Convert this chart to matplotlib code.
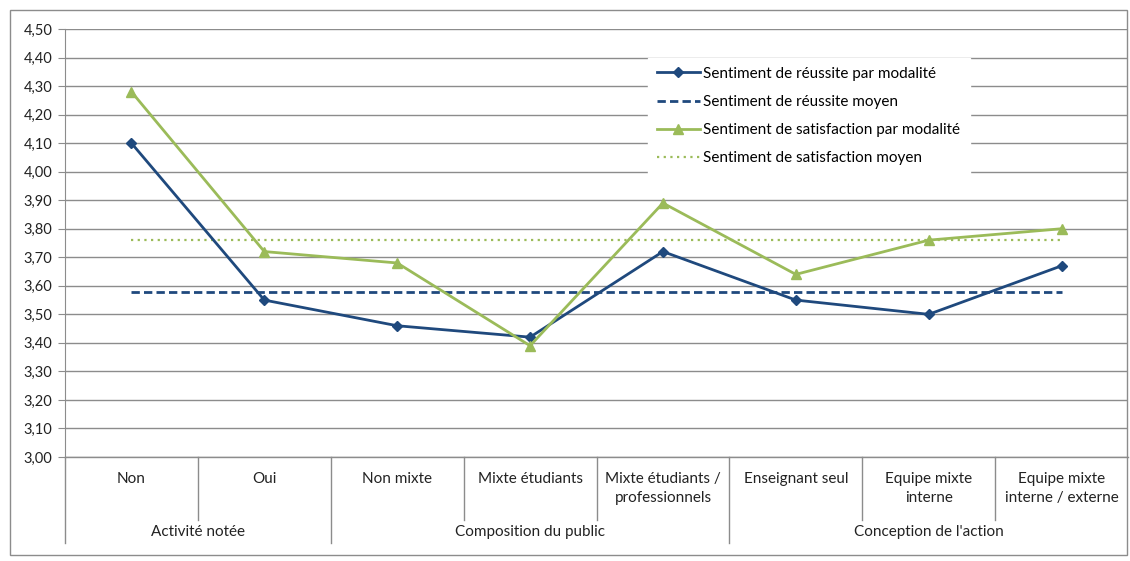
import matplotlib
matplotlib.use("Agg")
import matplotlib.pyplot as plt
from matplotlib.patches import Rectangle
from matplotlib.lines import Line2D
from matplotlib.ticker import FixedLocator, FuncFormatter
import matplotlib.transforms as mtransforms

plt.rcParams['font.family'] = ['Lato', 'DejaVu Sans']

categories = ["Non", "Oui", "Non mixte", "Mixte étudiants", "Mixte étudiants /\nprofessionnels",
              "Enseignant seul", "Equipe mixte\ninterne", "Equipe mixte\ninterne / externe"]
groups = ["Activité notée", "Composition du public", "Conception de l'action"]
group_sizes = [2, 3, 3]
reussite = [4.10, 3.55, 3.46, 3.42, 3.72, 3.55, 3.50, 3.67]
satisfaction = [4.28, 3.72, 3.68, 3.39, 3.89, 3.64, 3.76, 3.80]
reussite_moyen = 3.58
satisfaction_moyen = 3.76
yticks = [3.0 + 0.1 * i for i in range(16)]

blue = "#1F497D"
green = "#9BBB59"
grid_c = "#8C8C8C"
FS = 11

fig = plt.figure(figsize=(11.30, 5.61), dpi=100)
W, H = 1130, 561
ax = fig.add_axes([65 / W, 1 - 457 / H, (1128 - 65) / W, (457 - 29) / H])

n = len(categories)
x = list(range(n))
ax.set_xlim(-0.5, n - 0.5)
ax.set_ylim(3.0, 4.5)

ax.plot(x, reussite, color=blue, lw=2, marker='D', ms=5, label="Sentiment de réussite par modalité", zorder=4)
ax.plot([x[0], x[-1]], [reussite_moyen] * 2, color=blue, lw=2, ls=(0, (3, 1.5)), label="Sentiment de réussite moyen", zorder=3)
ax.plot(x, satisfaction, color=green, lw=2, marker='^', ms=7, label="Sentiment de satisfaction par modalité", zorder=4)
ax.plot([x[0], x[-1]], [satisfaction_moyen] * 2, color=green, lw=1.6, ls=(0, (1, 2)), label="Sentiment de satisfaction moyen", zorder=3)

ax.yaxis.set_major_locator(FixedLocator(yticks))
ax.yaxis.set_major_formatter(FuncFormatter(lambda v, p: f"{v:.2f}".replace(".", ",")))
ax.grid(axis='y', color=grid_c, lw=1)
ax.set_axisbelow(True)
ax.tick_params(axis='y', length=5, color=grid_c, labelsize=10.5, labelcolor="#222222", pad=4)
ax.set_xticks([])
for s in ['top', 'right', 'bottom']:
    ax.spines[s].set_visible(False)
ax.spines['left'].set_color(grid_c)

# category axis lines
tr = mtransforms.blended_transform_factory(ax.transData, ax.transAxes)
px = 1.0 / (457 - 29)
ax.add_line(Line2D([-0.5, n - 0.5], [0, 0], transform=tr, color=grid_c, lw=1, clip_on=False))
ax.add_line(Line2D([-0.5, -0.5], [0, -86 * px], transform=tr, color=grid_c, lw=1, clip_on=False))
bounds = []
acc = 0
for g in group_sizes[:-1]:
    acc += g
    bounds.append(acc)
for b in range(1, n):
    bx = b - 0.5
    depth = 86 if b in bounds else 63
    ax.add_line(Line2D([bx, bx], [0, -depth * px], transform=tr, color=grid_c, lw=1, clip_on=False))

for i, c in enumerate(categories):
    ax.text(i, -15 * px, c, transform=tr, ha='center', va='top', fontsize=FS, color="#222222",
            linespacing=1.45)
start = 0
for g, sz in zip(groups, group_sizes):
    ax.text(start + (sz - 1) / 2, -75 * px, g, transform=tr, ha='center', va='center', fontsize=FS,
            color="#222222")
    start += sz

leg = ax.legend(loc='upper left', bbox_to_anchor=((640 - 65) / (1128 - 65), 1 - (50 - 29) / (457 - 29)),
                frameon=True, fontsize=FS, handlelength=2.8, labelspacing=0.92, borderpad=0.6,
                handletextpad=0.25)
leg.get_frame().set_edgecolor('white')
leg.get_frame().set_facecolor('white')
leg.get_frame().set_alpha(1)
leg.get_frame().set_boxstyle('square', pad=0)

fig.add_artist(Rectangle((10 / W, 1 - 555 / H), (1127 - 10) / W, (555 - 10) / H, transform=fig.transFigure,
                         fill=False, edgecolor="#8C8C8C", lw=1))

fig.savefig("out.png", dpi=100)
